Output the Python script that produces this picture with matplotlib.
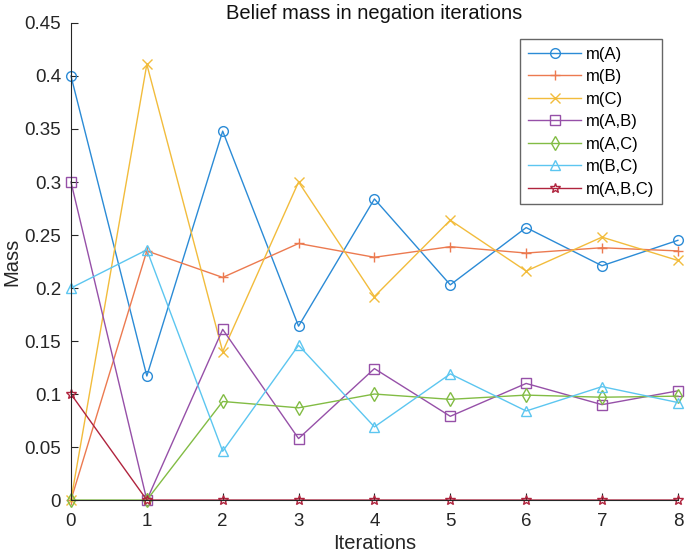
import matplotlib.pyplot as plt

plt.rcParams['font.family'] = ['Liberation Sans', 'DejaVu Sans']

iterations = [0, 1, 2, 3, 4, 5, 6, 7, 8]

m_A = [0.400, 0.117, 0.348, 0.164, 0.284, 0.203, 0.257, 0.221, 0.245]
m_B = [0.000, 0.235, 0.210, 0.242, 0.229, 0.239, 0.233, 0.238, 0.235]
m_C = [0.000, 0.411, 0.140, 0.300, 0.192, 0.264, 0.216, 0.248, 0.226]
m_AB = [0.300, 0.000, 0.161, 0.058, 0.124, 0.079, 0.110, 0.090, 0.103]
m_AC = [0.000, 0.000, 0.093, 0.087, 0.100, 0.095, 0.099, 0.097, 0.098]
m_BC = [0.200, 0.236, 0.046, 0.146, 0.069, 0.119, 0.084, 0.107, 0.092]
m_ABC = [0.100, 0.000, 0.000, 0.000, 0.000, 0.000, 0.000, 0.000, 0.000]

series = [
    ("m(A)", m_A, "#2b8bd6", "o"),
    ("m(B)", m_B, "#ec7a50", "+"),
    ("m(C)", m_C, "#f2bc3c", "x"),
    ("m(A,B)", m_AB, "#9650a8", "s"),
    ("m(A,C)", m_AC, "#82bc44", "d"),
    ("m(B,C)", m_BC, "#5cc6f0", "^"),
    ("m(A,B,C)", m_ABC, "#b0243e", "*"),
]

fig = plt.figure(figsize=(6.85, 5.55), dpi=100)
ax = fig.add_axes([0.1036, 0.099, 0.886, 0.8596])

for label, vals, color, mk in series:
    ax.plot(iterations, vals, color=color, marker=mk, markersize=7,
            markerfacecolor='none', markeredgecolor=color,
            markeredgewidth=1.0, linewidth=1.0, label=label)

ax.set_xlim(0, 8)
ax.set_ylim(0, 0.45)
ax.set_xticks(range(0, 9))
ax.set_yticks([0, 0.05, 0.1, 0.15, 0.2, 0.25, 0.3, 0.35, 0.4, 0.45])
ax.set_yticklabels(['0', '0.05', '0.1', '0.15', '0.2', '0.25', '0.3', '0.35', '0.4', '0.45'])
ax.tick_params(direction='in', length=5, labelsize=13.5, colors='#262626')
ax.tick_params(axis='y', pad=7)
ax.tick_params(axis='x', pad=9)
ax.spines['top'].set_visible(False)
ax.spines['right'].set_visible(False)
ax.spines['left'].set_color('#262626')
ax.spines['bottom'].set_color('#262626')

ax.set_title('Belief mass in negation iterations', fontsize=14.5, color='#111111', pad=3)
ax.set_xlabel('Iterations', fontsize=14.5, labelpad=3, color='#262626')
ax.set_ylabel('Mass', fontsize=14.5, labelpad=2, color='#262626')

leg = ax.legend(loc='upper right', bbox_to_anchor=(0.974, 0.966), fontsize=12,
                frameon=True, fancybox=False, edgecolor='#404040',
                handlelength=3.2, handletextpad=0.3, labelspacing=0.45,
                borderpad=0.45, borderaxespad=0)
leg.get_frame().set_linewidth(1.0)

for line in ax.get_lines():
    line.set_clip_on(False)

fig.savefig('out.png', dpi=100)
